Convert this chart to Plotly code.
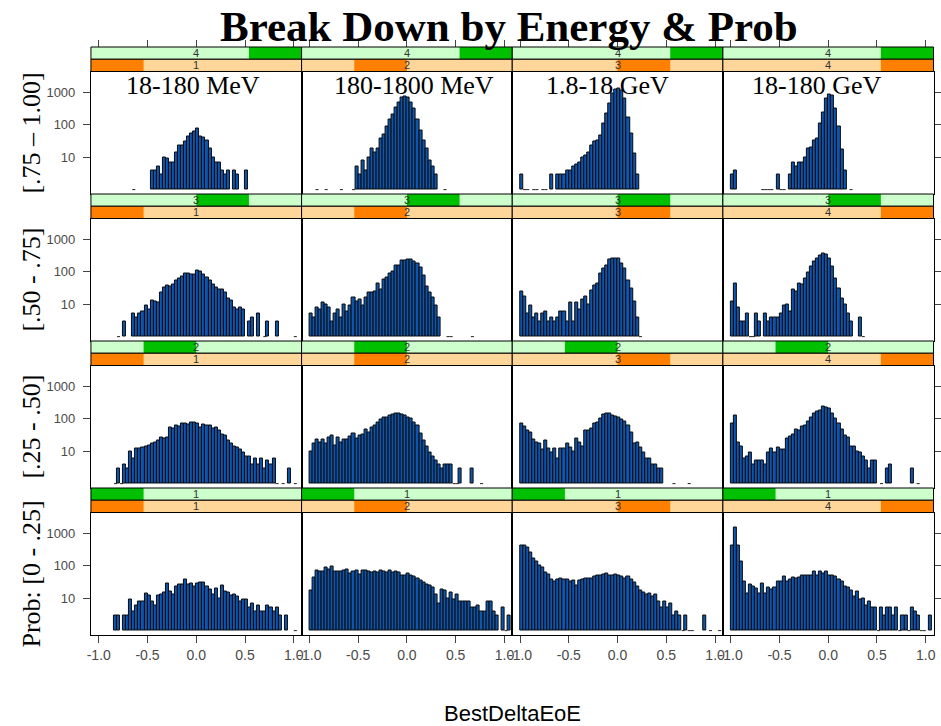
import numpy as np
import plotly.graph_objects as go

W, H = 941, 726

# Histogram bins of BestDeltaEoE: width 1/32 starting at -1
N_BINS = 66
BIN_W = 1.0 / 32
bin_lo = -1.0 + BIN_W * np.arange(N_BINS)
bin_mid = bin_lo + BIN_W / 2

energy_bins = ["18-180 MeV", "180-1800 MeV", "1.8-18 GeV", "18-180 GeV"]
prob_bins = ["[.75 – 1.00]", "[.50 - .75]", "[.25 - .50]", "Prob: [0 - .25]"]
energy_levels = ["1", "2", "3", "4"]
prob_levels = ["4", "3", "2", "1"]          # top row -> bottom row

x_ticks = [-1.0, -0.5, 0.0, 0.5, 1.0]
x_tick_text = ["-1.0", "-0.5", "0.0", "0.5", "1.0"]
y_ticks = [10, 100, 1000]
y_tick_text = ["10", "100", "1000"]
x_title = "BestDeltaEoE"
main_title = "Break Down by Energy & Prob"

# Counts per bin (66 bins), one list per prob level (p) and energy bin (e)
p4_e1 = [0,0,0,0,0,0,0,0,0,0, 0,1,0,0,0,0,0,3,3,4, 2,9,8,6,6,13,22,22,29,43,
         52,58,74,41,38,31,17,9,6,6, 3,2,3,0,3,2,0,0,3,0, 0,0,0,0,0,0,0,0,0,0, 0,0,0,0,0,0]
p4_e2 = [0,0,1,0,0,1,0,0,0,0, 1,0,0,0,1,4,2,7,3,9, 17,13,18,36,49,87,139,202,341,487,
         661,726,693,487,303,139,65,32,18,7, 4,2,0,0,1,0,0,0,0,0, 0,0,0,0,0,0,0,0,0,0, 0,0,0,0,0,0]
p4_e3 = [2,1,1,0,1,1,0,1,1,0, 2,0,2,2,2,3,3,4,5,6, 9,10,13,21,29,32,46,105,213,434,
         877,1170,1250,1110,617,168,52,12,2,0, 0,0,0,0,0,0,0,0,0,0, 0,0,0,0,0,0,0,0,0,0, 0,0,0,0,0,0]
p4_e4 = [2,3,0,0,0,0,0,0,0,0, 1,1,1,1,0,2,1,1,0,2, 6,4,6,6,9,18,19,32,35,105,
         240,617,840,760,300,87,16,3,0,1, 0,0,0,0,0,0,0,0,0,0, 0,0,0,0,0,0,0,0,0,0, 0,0,0,0,0,0]

p3_e1 = [0,0,0,0,0,0,1,0,2,0, 0,4,3,4,5,8,6,12,11,10, 21,32,35,33,38,52,60,70,85,87,
         80,83,105,96,83,66,52,40,32,28, 27,21,14,12,7,6,7,6,0,2, 3,0,4,0,1,2,0,0,2,0, 0,0,0,0,1,0]
p3_e2 = [4,3,7,6,10,9,7,2,4,6, 3,9,5,8,15,11,13,8,15,21, 22,23,41,27,57,63,88,100,147,147,
         214,225,240,240,203,177,135,73,34,22, 15,8,3,0,0,1,1,0,0,0, 0,0,0,1,0,0,0,0,0,0, 0,0,0,0,0,0]
p3_e3 = [23,16,4,8,3,4,2,4,5,2, 3,2,3,5,5,2,10,2,10,6, 13,16,9,25,37,42,86,122,155,230,
         247,248,247,174,122,53,30,11,3,1, 0,0,0,0,0,0,0,0,0,0, 0,0,0,0,0,0,0,0,0,0, 0,0,0,0,0,0]
p3_e4 = [11,42,7,2,2,4,1,1,4,2, 0,4,2,3,3,3,4,8,9,5, 27,23,42,40,60,95,145,200,250,300,
         370,340,250,138,60,30,14,9,4,2, 0,0,3,1,0,0,0,0,0,0, 0,0,0,0,0,0,0,0,0,0, 0,0,0,0,0,0]

p2_e1 = [0,0,0,0,0,1,2,1,3,2, 9,5,11,11,12,13,14,16,18,20, 26,23,25,53,50,60,56,68,70,65,
         72,76,68,53,65,59,60,47,53,42, 32,30,20,16,13,12,10,8,6,6, 3,5,3,5,2,4,3,5,1,0, 1,0,2,0,1,0]
p2_e2 = [9,16,22,18,22,16,25,30,14,25, 18,22,21,28,33,23,30,32,44,35, 53,60,76,90,108,104,122,130,137,137,
         131,122,108,96,76,60,33,20,13,8, 6,4,3,2,3,3,3,1,1,2, 0,0,0,2,0,0,1,0,0,0, 0,0,0,0,0,0]
p2_e3 = [71,56,42,35,21,17,16,10,20,11, 8,11,5,11,11,16,12,9,23,17, 13,42,42,47,67,76,96,131,144,137,
         122,114,104,95,82,60,35,16,18,12, 8,5,5,3,3,2,2,0,0,0, 1,0,0,0,0,1,0,0,0,0, 0,0,0,0,0,0]
p2_e4 = [67,122,17,13,5,6,8,3,4,4, 4,3,8,11,8,12,10,10,23,27, 32,46,42,56,60,82,104,144,165,181,
         234,210,196,144,96,67,44,30,25,13, 13,9,8,6,4,2,4,4,0,1, 0,2,3,0,0,0,0,0,0,2, 0,1,0,0,0,0]

p1_e1 = [0,0,0,0,0,2,2,0,2,2, 8,3,5,7,7,13,11,7,5,11, 12,14,28,15,12,22,26,26,37,26,
         28,22,28,29,30,21,18,12,19,9, 24,15,14,11,12,10,7,8,8,4, 6,3,5,3,3,5,4,3,4,2, 0,2,0,0,1,0]
p1_e2 = [16,41,71,66,63,84,76,90,63,66, 63,71,76,56,66,71,52,69,69,63, 60,66,60,71,63,60,69,60,63,58,
         50,47,56,47,44,39,33,30,26,23, 20,12,6,17,16,9,14,8,12,7, 7,7,7,4,4,5,3,3,7,7, 3,2,0,4,1,2]
p1_e3 = [398,417,345,247,162,134,101,84,60,52, 35,31,35,39,35,35,31,33,23,33, 35,39,39,39,44,50,47,52,56,50,
         47,52,48,44,39,44,35,30,22,16, 14,12,13,10,12,7,4,7,4,6, 2,3,2,1,2,1,1,0,0,0, 2,0,1,0,0,1]
p1_e4 = [417,1520,417,128,32,13,26,22,19,13, 27,13,20,18,20,31,31,44,32,37, 41,39,43,47,50,50,50,66,47,66,
         56,66,50,50,44,35,32,22,20,16, 10,15,8,9,5,7,4,4,1,4, 2,4,4,2,4,1,2,2,1,4, 3,2,1,1,0,2]

counts = [
    [p4_e1, p4_e2, p4_e3, p4_e4],
    [p3_e1, p3_e2, p3_e3, p3_e4],
    [p2_e1, p2_e2, p2_e3, p2_e4],
    [p1_e1, p1_e2, p1_e3, p1_e4],
]

# ---- page geometry (pixels) ----
COL_X0, COL_W = 87.5, 212.0
ROW_Y0, ROW_PITCH, STRIP_H = 47.0, 147.0, 12.25
X_RANGE = [-1.08, 1.08]
Y_RANGE = [-0.135, 3.63]          # log10 units

BAR_FILL = "#0C56B0"
BAR_EDGE = "#0a0a0a"
LIGHT_GREEN, DARK_GREEN = "#CCFFCC", "#00C000"
LIGHT_ORANGE, DARK_ORANGE = "#FFD699", "#FF8000"
TICK_FONT = dict(family="Liberation Sans, Arial, sans-serif", color="#4a4a4a")


def fx(px):
    return px / W


def fy(px):
    return 1 - px / H


fig = go.Figure()
layout = dict(
    width=W, height=H,
    margin=dict(l=0, r=0, t=0, b=0, pad=0),
    paper_bgcolor="white", plot_bgcolor="white",
    showlegend=False, bargap=0,
)
shapes, annotations = [], []

for r in range(4):
    for c in range(4):
        k = r * 4 + c + 1
        xa, ya = f"x{k}", f"y{k}"
        xa_key = "xaxis" if k == 1 else f"xaxis{k}"
        ya_key = "yaxis" if k == 1 else f"yaxis{k}"
        xa_ref = "x" if k == 1 else xa
        ya_ref = "y" if k == 1 else ya

        cnt = np.asarray(counts[r][c])
        keep = cnt >= 2
        fig.add_trace(go.Bar(
            x=bin_mid[keep], y=cnt[keep], base=1, width=BIN_W,
            marker=dict(color=BAR_FILL, line=dict(color=BAR_EDGE, width=1)),
            xaxis=xa_ref, yaxis=ya_ref, hoverinfo="skip",
        ))
        # single-count bins sit on the baseline as flat dashes
        dx, dy = [], []
        for lo in bin_lo[cnt == 1]:
            dx += [lo, lo + BIN_W, None]
            dy += [1, 1, None]
        if dx:
            fig.add_trace(go.Scatter(
                x=dx, y=dy, mode="lines", line=dict(color="#222222", width=1),
                xaxis=xa_ref, yaxis=ya_ref, hoverinfo="skip",
            ))

        x0 = COL_X0 + c * COL_W
        x1 = x0 + COL_W
        top = ROW_Y0 + r * ROW_PITCH
        p_top = top + 2 * STRIP_H
        p_bot = top + ROW_PITCH

        xaxis = dict(
            domain=[fx(x0), fx(x1)], range=X_RANGE, anchor=ya_ref,
            showgrid=False, zeroline=False, showline=True, mirror=True,
            linecolor="black", linewidth=1, fixedrange=True,
        )
        if r == 3:
            xaxis.update(ticks="outside", ticklen=7, tickcolor="#444",
                         tickvals=x_ticks, ticktext=x_tick_text,
                         tickfont=dict(size=14, **TICK_FONT))
        else:
            xaxis.update(ticks="", showticklabels=False)
        yaxis = dict(
            domain=[fy(p_bot), fy(p_top)], type="log", range=Y_RANGE,
            anchor=xa_ref, showgrid=False, zeroline=False, showline=True,
            mirror=True, linecolor="black", linewidth=1, fixedrange=True,
        )
        if c == 0:
            yaxis.update(ticks="outside", ticklen=7, tickcolor="#444",
                         tickvals=y_ticks, ticktext=y_tick_text,
                         ticklabelstandoff=5,
                         tickfont=dict(size=13, **TICK_FONT))
        elif c == 3:
            yaxis.update(side="right", ticks="outside", ticklen=7, tickcolor="#444",
                         tickvals=y_ticks, showticklabels=False)
        else:
            yaxis.update(ticks="", showticklabels=False)
        layout[xa_key] = xaxis
        layout[ya_key] = yaxis

        # strips: prob shingle (green, outer) and energy shingle (orange, inner)
        g_lvl = 4 - r
        for (sy0, light, dark, lvl, label) in (
            (top, LIGHT_GREEN, DARK_GREEN, g_lvl, prob_levels[r]),
            (top + STRIP_H, LIGHT_ORANGE, DARK_ORANGE, c + 1, energy_levels[c]),
        ):
            sy1 = sy0 + STRIP_H
            shapes.append(dict(type="rect", xref="paper", yref="paper",
                               x0=fx(x0), x1=fx(x1), y0=fy(sy1), y1=fy(sy0),
                               fillcolor=light, line=dict(width=0)))
            shapes.append(dict(type="rect", xref="paper", yref="paper",
                               x0=fx(x0 + COL_W * (lvl - 1) / 4), x1=fx(x0 + COL_W * lvl / 4),
                               y0=fy(sy1), y1=fy(sy0),
                               fillcolor=dark, line=dict(width=0)))
            shapes.append(dict(type="rect", xref="paper", yref="paper",
                               x0=fx(x0), x1=fx(x1), y0=fy(sy1), y1=fy(sy0),
                               fillcolor="rgba(0,0,0,0)", line=dict(color="black", width=1)))
            annotations.append(dict(
                text=label, xref="paper", yref="paper",
                x=fx((x0 + x1) / 2), y=fy((sy0 + sy1) / 2),
                xanchor="center", yanchor="middle", showarrow=False,
                font=dict(size=11, family="Liberation Sans, Arial, sans-serif", color="#333"),
            ))

# tick marks above the top row of strips
for c in range(4):
    k = 17 + c
    base = "x" if c == 0 else f"x{c + 1}"
    layout[f"xaxis{k}"] = dict(
        overlaying=base, anchor="free", position=fy(ROW_Y0), side="top",
        range=X_RANGE, ticks="outside", ticklen=7, tickcolor="#444",
        tickvals=x_ticks, showticklabels=False, showline=False,
        showgrid=False, zeroline=False, fixedrange=True,
    )
    fig.add_trace(go.Scatter(x=[None], y=[None], xaxis=f"x{k}",
                             yaxis="y" if c == 0 else f"y{c + 1}",
                             mode="markers", hoverinfo="skip"))

# energy labels inside the top row of panels
title_x = [190.5, 413.0, 607.0, 818.0]
for c in range(4):
    annotations.append(dict(
        text=energy_bins[c], xref="paper", yref="paper",
        x=fx(title_x[c]), y=fy(86), xanchor="center", yanchor="middle",
        showarrow=False,
        font=dict(size=26, family="Liberation Serif, Times New Roman, serif", color="black"),
    ))

# probability labels along the left side
for r in range(4):
    top = ROW_Y0 + r * ROW_PITCH
    cy = (top + 2 * STRIP_H + top + ROW_PITCH) / 2
    annotations.append(dict(
        text=prob_bins[r], xref="paper", yref="paper",
        x=fx(28), y=fy(cy), xanchor="center", yanchor="middle",
        textangle=-90, showarrow=False,
        font=dict(size=26, family="Liberation Serif, Times New Roman, serif", color="black"),
    ))

annotations.append(dict(
    text=main_title, xref="paper", yref="paper", x=fx(508.5), y=fy(26),
    xanchor="center", yanchor="middle", showarrow=False,
    font=dict(size=43, family="Liberation Serif, Times New Roman, serif",
              color="black", weight="bold"),
))
annotations.append(dict(
    text=x_title, xref="paper", yref="paper", x=fx(512), y=fy(713),
    xanchor="center", yanchor="middle", showarrow=False,
    font=dict(size=22, family="Liberation Sans, Arial, sans-serif", color="black"),
))

layout["shapes"] = shapes
layout["annotations"] = annotations
fig.update_layout(**layout)
fig.write_html("out.html")
